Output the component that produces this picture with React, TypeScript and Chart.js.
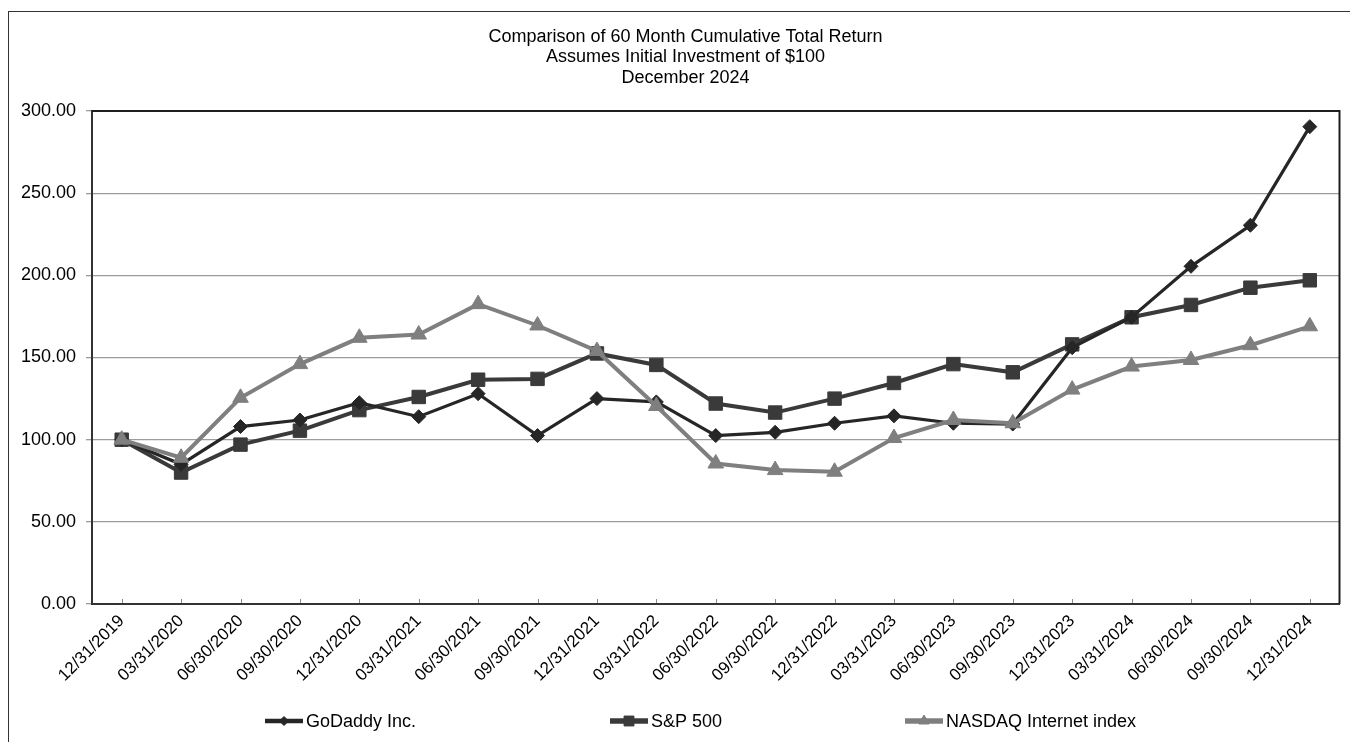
import React, { useEffect, useRef } from "react";
import { Chart, registerables } from "chart.js";
import { drawPoint } from "chart.js/helpers";

Chart.register(...registerables);

const categories = [
  "12/31/2019", "03/31/2020", "06/30/2020", "09/30/2020", "12/31/2020",
  "03/31/2021", "06/30/2021", "09/30/2021", "12/31/2021", "03/31/2022",
  "06/30/2022", "09/30/2022", "12/31/2022", "03/31/2023", "06/30/2023",
  "09/30/2023", "12/31/2023", "03/31/2024", "06/30/2024", "09/30/2024",
  "12/31/2024",
];

const goDaddy = [100, 85, 108, 112, 122.5, 114, 128, 102.5, 125, 123, 102.5, 104.5, 110, 114.5, 110, 109.5, 156, 174.5, 205.5, 230.5, 290.5];
const sp500 = [100, 80, 97, 105.5, 118, 126, 136.5, 137, 152.5, 145.5, 122, 116.5, 125, 134.5, 146, 141, 158, 174.5, 182, 192.5, 197];
const nasdaqInternet = [100, 89, 125.5, 146, 162, 164, 182.5, 169.5, 154, 120.5, 85.5, 81.5, 80.5, 101, 112, 110, 130.5, 144.5, 148.5, 157.5, 169];

const seriesLabels = ["GoDaddy Inc.", "S&P 500", "NASDAQ Internet index"];
const titleLines = [
  "Comparison of 60 Month Cumulative Total Return",
  "Assumes Initial Investment of $100",
  "December 2024",
];
const yMin = 0;
const yMax = 300;
const yStep = 50;

const FONT = '"Liberation Sans", Arial, Helvetica, sans-serif';

const titleShift = {
  id: "titleShift",
  afterLayout(chart: any, _args: any, opts: any) {
    if (chart.titleBlock) {
      chart.titleBlock.left += opts.dx;
    }
  },
};

const frameAndTicks = {
  id: "frameAndTicks",
  beforeDatasetsDraw(chart: any) {
    const { ctx, chartArea } = chart;
    const xs = chart.scales.x;
    ctx.save();
    ctx.strokeStyle = "#8a8a8a";
    ctx.lineWidth = 1;
    xs.ticks.forEach((_: any, i: number) => {
      const px = Math.round(xs.getPixelForTick(i)) + 0.5;
      ctx.beginPath();
      ctx.moveTo(px, chartArea.bottom - 1);
      ctx.lineTo(px, chartArea.bottom - 5);
      ctx.stroke();
    });
    ctx.strokeStyle = "#1e1e1e";
    ctx.lineWidth = 2;
    ctx.beginPath();
    ctx.moveTo(chartArea.left, chartArea.top);
    ctx.lineTo(chartArea.right, chartArea.top);
    ctx.lineTo(chartArea.right, chartArea.bottom);
    ctx.stroke();
    ctx.restore();
  },
};

const lineLegend = {
  id: "lineLegend",
  afterDraw(chart: any, _args: any, opts: any) {
    const { ctx } = chart;
    ctx.save();
    ctx.font = `18px ${FONT}`;
    ctx.textBaseline = "middle";
    ctx.textAlign = "left";
    const y = opts.y;
    chart.data.datasets.forEach((ds: any, i: number) => {
      const x0 = opts.positions[i];
      ctx.strokeStyle = ds.borderColor;
      ctx.lineWidth = ds.borderWidth + 1.5;
      ctx.beginPath();
      ctx.moveTo(x0, y);
      ctx.lineTo(x0 + 38, y);
      ctx.stroke();
      ctx.fillStyle = ds.pointBackgroundColor;
      ctx.strokeStyle = ds.pointBorderColor;
      ctx.lineWidth = 1;
      drawPoint(ctx, { pointStyle: ds.pointStyle, radius: ds.legendRadius, borderWidth: 1, rotation: 0 }, x0 + 19, y);
      ctx.fillStyle = "#000";
      ctx.fillText(ds.label, x0 + 41, y + 1);
    });
    ctx.restore();
  },
};

export default function App() {
  const ref = useRef<HTMLCanvasElement | null>(null);

  useEffect(() => {
    if (!ref.current) return;
    const chart = new Chart(ref.current, {
      type: "line",
      data: {
        labels: categories,
        datasets: [
          {
            label: seriesLabels[0],
            data: goDaddy,
            borderColor: "#262626",
            backgroundColor: "#262626",
            pointBackgroundColor: "#262626",
            pointBorderColor: "#262626",
            borderWidth: 3.2,
            pointStyle: "rectRot",
            pointRadius: 7,
            pointBorderWidth: 1,
            tension: 0,
            order: 1,
            legendRadius: 4.5,
          } as any,
          {
            label: seriesLabels[1],
            data: sp500,
            borderColor: "#3a3a3a",
            backgroundColor: "#3a3a3a",
            pointBackgroundColor: "#3a3a3a",
            pointBorderColor: "#3a3a3a",
            borderWidth: 4,
            pointStyle: "rect",
            pointRadius: 9.5,
            pointBorderWidth: 1,
            tension: 0,
            order: 2,
            legendRadius: 7,
          } as any,
          {
            label: seriesLabels[2],
            data: nasdaqInternet,
            borderColor: "#7f7f7f",
            backgroundColor: "#7f7f7f",
            pointBackgroundColor: "#7f7f7f",
            pointBorderColor: "#7f7f7f",
            borderWidth: 4,
            pointStyle: "triangle",
            pointRadius: 9,
            pointBorderWidth: 1,
            tension: 0,
            order: 0,
            legendRadius: 6,
          } as any,
        ],
      },
      options: {
        animation: false,
        responsive: true,
        maintainAspectRatio: false,
        devicePixelRatio: 1,
        layout: { padding: { left: 0, right: 10, top: 0, bottom: 38 } },
        plugins: {
          legend: { display: false },
          tooltip: { enabled: false },
          title: {
            display: true,
            text: titleLines,
            color: "#000",
            font: { family: FONT, size: 18, weight: "normal", lineHeight: 1.14 },
            padding: { top: 14.5, bottom: 23 },
          },
          titleShift: { dx: 22 },
          lineLegend: { y: 709, positions: [256, 601, 896] },
        } as any,
        scales: {
          x: {
            type: "category",
            offset: true,
            grid: { display: true, drawOnChartArea: false, drawTicks: false },
            border: { display: true, color: "#333", width: 2 },
            ticks: {
              color: "#000",
              font: { family: FONT, size: 17 },
              minRotation: 45,
              maxRotation: 45,
              autoSkip: false,
              padding: 7,
            },
            afterFit: (scale: any) => {
              scale.height = 100;
            },
          },
          y: {
            min: yMin,
            max: yMax,
            grid: { color: "#9c9c9c", lineWidth: 1.3, tickLength: 6, drawTicks: true },
            border: { display: true, color: "#333", width: 2 },
            ticks: {
              stepSize: yStep,
              color: "#000",
              font: { family: FONT, size: 18 },
              padding: 10,
              callback: (v: any) => Number(v).toFixed(2),
            },
            afterFit: (scale: any) => {
              scale.width = 83;
            },
          },
        },
      },
      plugins: [titleShift, frameAndTicks, lineLegend],
    });
    return () => chart.destroy();
  }, []);

  return (
    <div
      style={{
        position: "fixed",
        left: 8,
        top: 11,
        width: 1342,
        height: 731,
        borderLeft: "1px solid #333",
        borderTop: "1px solid #333",
        background: "#fff",
        overflow: "hidden",
        boxSizing: "border-box",
      }}
    >
      <div style={{ position: "relative", width: 1341, height: 730 }}>
        <canvas ref={ref} />
      </div>
    </div>
  );
}
